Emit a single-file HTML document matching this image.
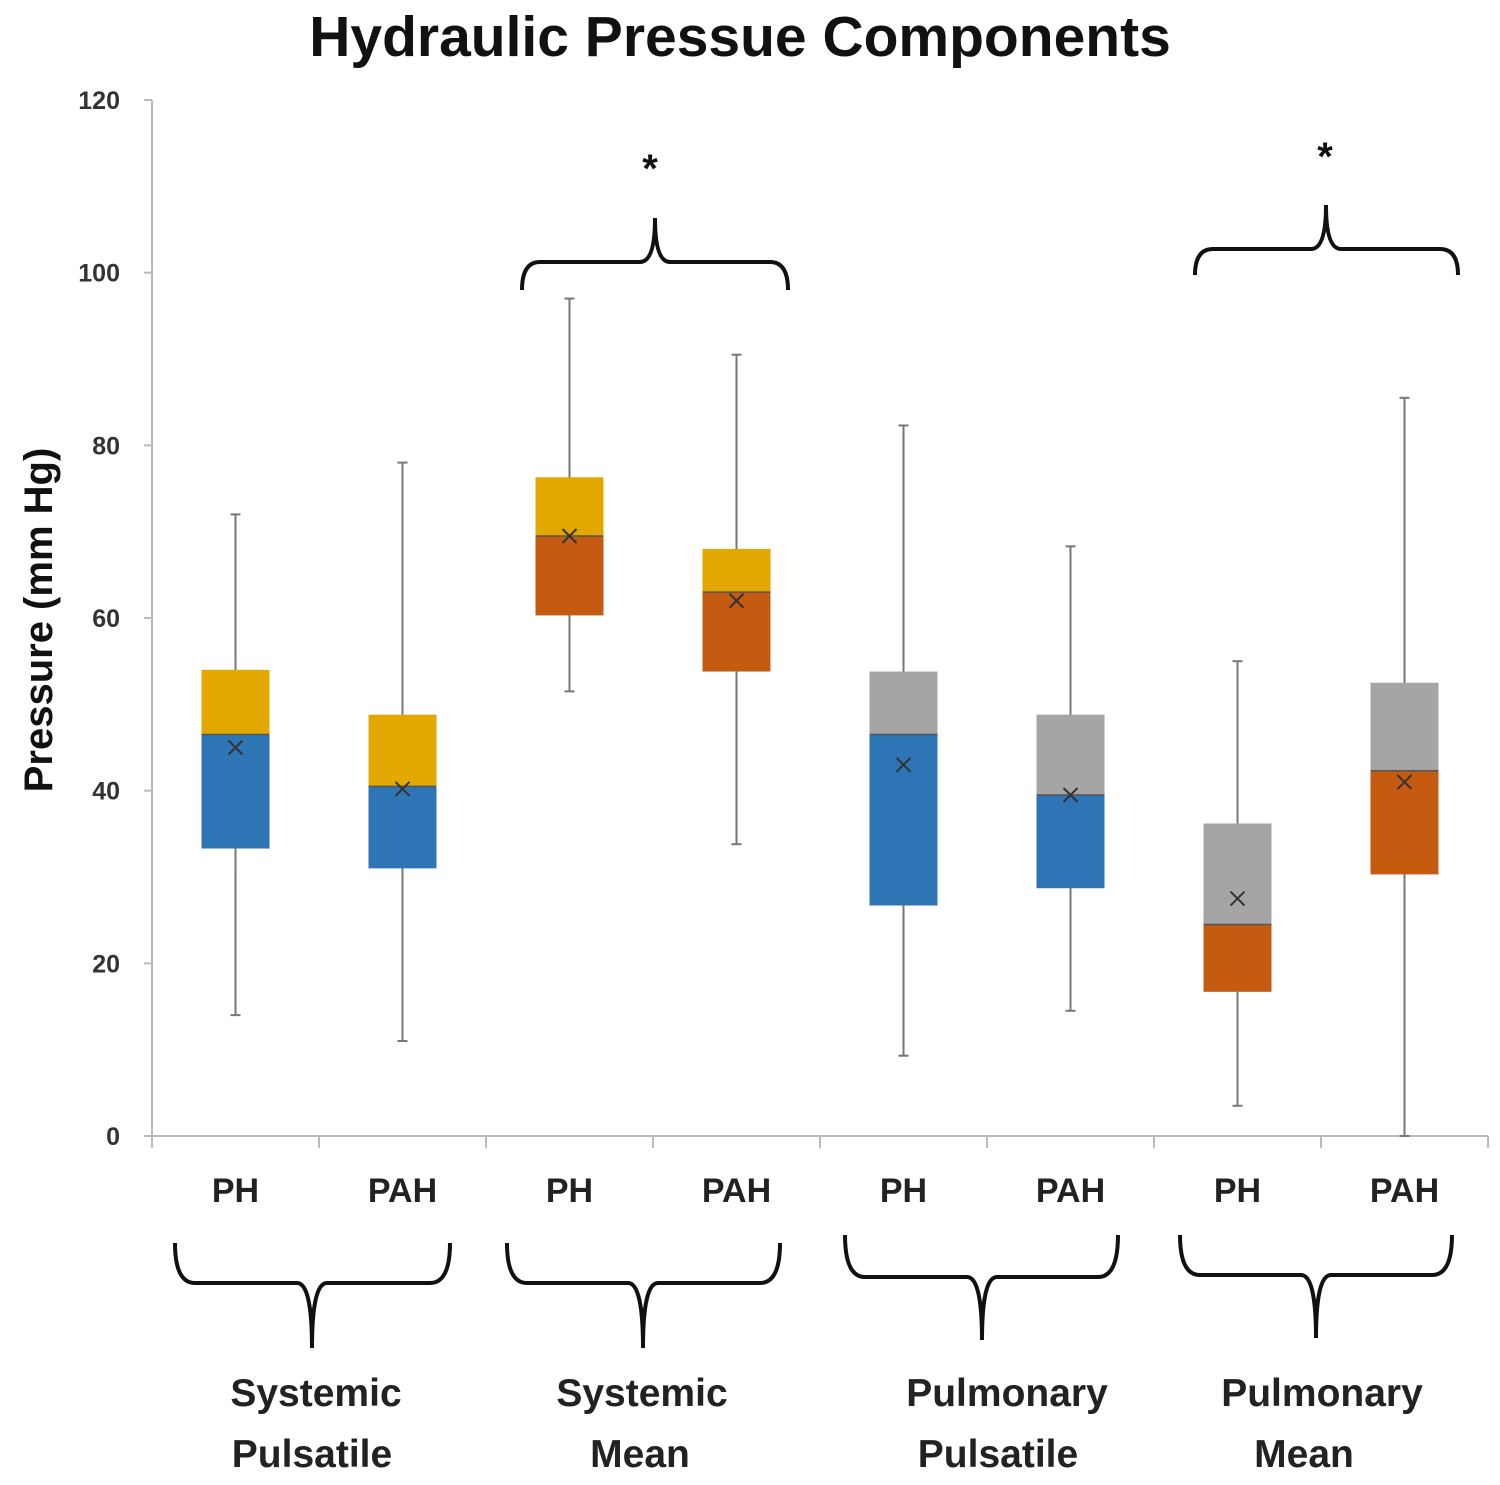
<!DOCTYPE html>
<html><head><meta charset="utf-8"><style>
body{margin:0;background:#fff}
svg{display:block;font-family:"Liberation Sans",sans-serif}
</style></head><body>
<svg id="chart" width="1500" height="1485" viewBox="0 0 1500 1485">
<text x="740" y="56" text-anchor="middle" font-size="57" font-weight="bold" fill="#111">Hydraulic Pressue Components</text>
<text transform="translate(52,620) rotate(-90)" text-anchor="middle" font-size="40" font-weight="bold" fill="#111">Pressure (mm Hg)</text>
<g id="axes"></g>
<g id="boxes"></g>
<g fill="none" stroke="#111" stroke-width="4">
<path d="M522,290 Q522,262 540,262 L640,262 Q655,262 655,218 Q655,262 670,262 L770,262 Q788,262 788,290"/>
<path d="M1195,275 Q1195,249 1213,249 L1311,249 Q1326,249 1326,205 Q1326,249 1341,249 L1440,249 Q1458,249 1458,275"/>
<path d="M175,1243 Q175,1283 195,1283 L297,1283 Q312,1283 312,1348 Q312,1283 327,1283 L430,1283 Q450,1283 450,1243"/>
<path d="M507,1243 Q507,1283 527,1283 L628,1283 Q643,1283 643,1348 Q643,1283 658,1283 L760,1283 Q780,1283 780,1243"/>
<path d="M845,1235 Q845,1277 865,1277 L967,1277 Q982,1277 982,1340 Q982,1277 997,1277 L1098,1277 Q1118,1277 1118,1235"/>
<path d="M1180,1235 Q1180,1275 1200,1275 L1301,1275 Q1316,1275 1316,1338 Q1316,1275 1331,1275 L1432,1275 Q1452,1275 1452,1235"/>
</g>
<text x="650" y="182" text-anchor="middle" font-size="40" font-weight="bold" fill="#111">*</text>
<text x="1325" y="170" text-anchor="middle" font-size="40" font-weight="bold" fill="#111">*</text>
<g font-size="39" font-weight="bold" fill="#222" text-anchor="middle">
<text x="316" y="1406">Systemic</text><text x="312" y="1467">Pulsatile</text>
<text x="642" y="1406">Systemic</text><text x="640" y="1467">Mean</text>
<text x="1007" y="1406">Pulmonary</text><text x="998" y="1467">Pulsatile</text>
<text x="1322" y="1406">Pulmonary</text><text x="1304" y="1467">Mean</text>
</g>
</svg>
<script>
const categories=["PH","PAH","PH","PAH","PH","PAH","PH","PAH"];
const whiskerLow=[14,11,51.5,33.8,9.3,14.5,3.5,0];
const whiskerHigh=[72,78,97,90.5,82.3,68.3,55,85.5];
const q1=[33.3,31,60.3,53.8,26.7,28.7,16.7,30.3];
const median=[46.5,40.5,69.5,63,46.5,39.5,24.5,42.3];
const q3=[54,48.8,76.3,68,53.8,48.8,36.2,52.5];
const means=[45,40.2,69.5,62,43,39.5,27.5,41];
const upperColors=["#E3A800","#E3A800","#E3A800","#E3A800","#A5A5A5","#A5A5A5","#A5A5A5","#A5A5A5"];
const lowerColors=["#2E75B6","#2E75B6","#C55A11","#C55A11","#2E75B6","#2E75B6","#C55A11","#C55A11"];
const yTicks=[0,20,40,60,80,100,120];
const NS="http://www.w3.org/2000/svg";
const x0=152,x1=1488,y0=1136,yTop=100;
const y=v=>y0-(v/120)*(y0-yTop);
const bw=(x1-x0)/categories.length;
const xc=i=>x0+bw*(i+0.5);
function mk(tag,attrs,parent){const e=document.createElementNS(NS,tag);for(const k in attrs)e.setAttribute(k,attrs[k]);parent.appendChild(e);return e;}
const ax=document.getElementById('axes');
let l=mk('line',{x1:x0,y1:yTop,x2:x0,y2:y0,stroke:'#bbb','stroke-width':2},ax);


l=mk('line',{x1:x0,y1:y0,x2:x1,y2:y0,stroke:'#bbb','stroke-width':2},ax);


yTicks.forEach(t=>{
 mk('line',{x1:x0-8,y1:y(t),x2:x0,y2:y(t),stroke:'#bbb','stroke-width':2},ax);
 const tx=mk('text',{x:120,y:y(t)+9,'text-anchor':'end','font-size':25,'font-weight':'bold',fill:'#333'},ax);
 tx.textContent=t;
 
 
});
for(let i=0;i<=categories.length;i++){mk('line',{x1:x0+bw*i,y1:y0,x2:x0+bw*i,y2:y0+12,stroke:'#bbb','stroke-width':2},ax);}
const bx=document.getElementById('boxes');
categories.forEach((c,i)=>{
 const cx=xc(i),w=68;
 const g=mk('g',{},bx);
 
 
 mk('line',{x1:cx,y1:y(whiskerHigh[i]),x2:cx,y2:y(whiskerLow[i]),stroke:'#777','stroke-width':2},g);
 mk('line',{x1:cx-5,y1:y(whiskerHigh[i]),x2:cx+5,y2:y(whiskerHigh[i]),stroke:'#777','stroke-width':2},g);
 mk('line',{x1:cx-5,y1:y(whiskerLow[i]),x2:cx+5,y2:y(whiskerLow[i]),stroke:'#777','stroke-width':2},g);
 mk('rect',{x:cx-w/2,y:y(q3[i]),width:w,height:y(median[i])-y(q3[i]),fill:upperColors[i]},g);
 mk('rect',{x:cx-w/2,y:y(median[i]),width:w,height:y(q1[i])-y(median[i]),fill:lowerColors[i]},g);
 mk('line',{x1:cx-w/2,y1:y(median[i]),x2:cx+w/2,y2:y(median[i]),stroke:'#555','stroke-width':1.5},g);
 const my=y(means[i]);
 mk('path',{d:`M${cx-7},${my-7}L${cx+7},${my+7}M${cx+7},${my-7}L${cx-7},${my+7}`,stroke:'#333','stroke-width':2},g);
 const t=mk('text',{x:cx,y:1202,'text-anchor':'middle','font-size':34,'font-weight':'bold',fill:'#222'},bx);
 t.textContent=c;
 
 
});
</script>
</body></html>
